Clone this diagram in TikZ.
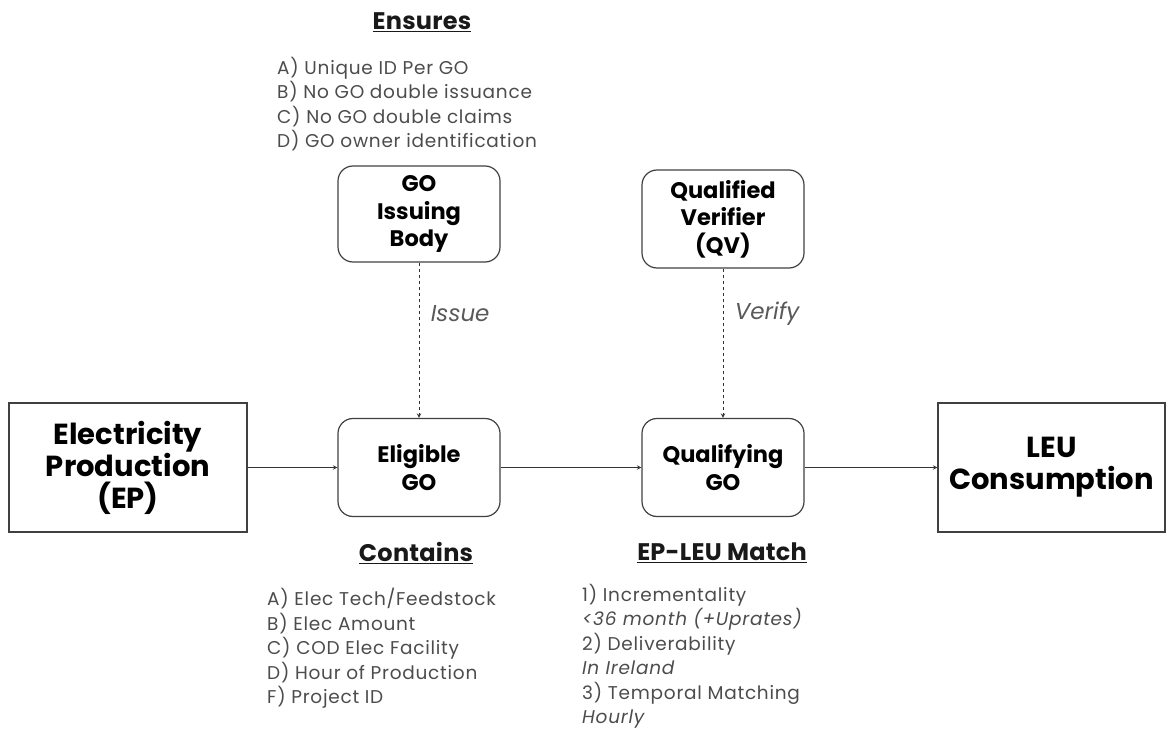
\documentclass[tikz,border=0pt]{standalone}
\usepackage{fontspec}
\setmainfont{Poppins}
\usepackage{xcolor}
\usetikzlibrary{arrows, positioning}

\begin{document}
\begin{tikzpicture}[
        x=1pt, y=-1pt,
        node distance=1cm,
        plainbox/.style={rectangle, draw=black!75, line width=1.2pt, align=center, inner sep=0pt, font=\fontsize{29}{32}\selectfont\bfseries},
        gobox/.style={rectangle, rounded corners=15pt, draw=black!75, line width=1.2pt, align=center, inner sep=0pt, minimum width=162pt, minimum height=98pt, font=\fontsize{22.5}{27.5}\selectfont\bfseries},
        heading/.style={font=\fontsize{24}{26}\selectfont\bfseries\addfontfeature{LetterSpace=1}, text=black!90},
        items/.style={align=left, anchor=north west, inner sep=0pt, text=black!70, font=\fontsize{18.5}{24.5}\selectfont\addfontfeature{LetterSpace=4}},
        arrow/.style={line width=1pt, ->, >=stealth, draw=black!80},
        lbl/.style={font=\fontsize{23}{24}\selectfont\itshape, text=black!65, right=8pt}
    ]
    \useasboundingbox (0,0) rectangle (1173,730);

    % Main flow
    \node[plainbox, minimum width=238pt, minimum height=129pt] (ep) at (128,467.5) {Electricity\\Production\\(EP)};
    \node[gobox] (eligible) at (419,467.5) {Eligible\\GO};
    \node[gobox] (qualifying) at (723,467.5) {Qualifying\\GO};
    \node[plainbox, minimum width=227pt, minimum height=129pt] (leu) at (1051.5,467.5) {LEU\\Consumption};

    % Bodies above
    \node[gobox, minimum height=96pt] (issuer) at (419,214) {GO\\Issuing\\Body};
    \node[gobox] (verifier) at (723,219) {Qualified\\Verifier\\(QV)};

    % Ensures
    \node[heading] (ensures) at (422,22) {\underline{Ensures}};
    \node[items] (ensurelist) at (277,57) {A) Unique ID Per GO\\B) No GO double issuance\\C) No GO double claims\\D) GO owner identification};

    % Contains
    \node[heading] (contains) at (416,553) {\underline{Contains}};
    \node[items] (containlist) at (267,588) {A) Elec Tech/Feedstock\\B) Elec Amount\\C) COD Elec Facility\\D) Hour of Production\\F) Project ID};

    % EP-LEU Match
    \node[heading] (match) at (722,553) {\underline{EP-LEU Match}};
    \node[items] (matchlist) at (582,584) {1) Incrementality\\\textit{<36 month (+Uprates)}\\2) Deliverability\\\textit{In Ireland}\\3) Temporal Matching\\\textit{Hourly}};

    % Connections
    \draw[arrow] (ep) -- (eligible);
    \draw[arrow] (eligible) -- (qualifying);
    \draw[arrow] (qualifying) -- (leu);
    \draw[arrow, dashed] (issuer) -- node[lbl, pos=0.33] {Issue} (eligible);
    \draw[arrow, dashed] (verifier) -- node[lbl, pos=0.3] {Verify} (qualifying);

\end{tikzpicture}
\end{document}
